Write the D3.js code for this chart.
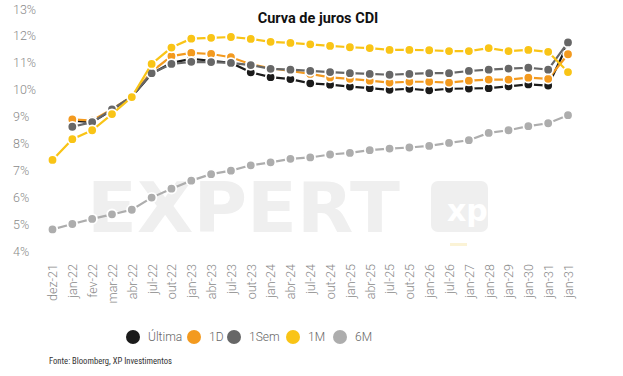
<!DOCTYPE html>
<html>
<head>
<meta charset="utf-8">
<script src="https://cdn.jsdelivr.net/npm/d3@7"></script>
<style>
  html, body { margin: 0; padding: 0; background: #fff; }
  svg { display: block; }
</style>
</head>
<body>
<svg id="chart" width="623" height="376"></svg>
<script>
const categories = ["dez-21","jan-22","fev-22","mar-22","abr-22","jul-22","out-22","jan-23","abr-23","jul-23","out-23","jan-24","abr-24","jul-24","out-24","jan-25","abr-25","jul-25","out-25","jan-26","jul-26","jan-27","jan-28","jan-29","jan-30","jan-31","jan-31"];
const ultima = [null, 8.86, 8.80, 9.25, 9.75, 10.60, 11.00, 11.15, 11.08, 11.00, 10.65, 10.47, 10.40, 10.24, 10.19, 10.12, 10.06, 10.00, 10.04, 9.98, 10.04, 10.05, 10.06, 10.13, 10.20, 10.16, 11.72];
const d1     = [null, 8.90, 8.86, 9.28, 9.76, 10.68, 11.25, 11.37, 11.33, 11.21, 10.95, 10.80, 10.70, 10.59, 10.46, 10.41, 10.34, 10.27, 10.30, 10.30, 10.27, 10.34, 10.38, 10.38, 10.45, 10.41, 11.32];
const sem1   = [null, 8.63, 8.80, 9.27, 9.76, 10.62, 10.96, 11.04, 11.03, 11.00, 10.92, 10.78, 10.75, 10.70, 10.66, 10.62, 10.59, 10.56, 10.59, 10.62, 10.62, 10.70, 10.75, 10.79, 10.82, 10.75, 11.76];
const m1     = [7.40, 8.17, 8.50, 9.10, 9.73, 10.96, 11.57, 11.90, 11.93, 11.96, 11.89, 11.78, 11.74, 11.69, 11.63, 11.58, 11.55, 11.48, 11.48, 11.47, 11.44, 11.44, 11.55, 11.44, 11.48, 11.41, 10.66];
const m6     = [4.82, 5.02, 5.21, 5.38, 5.55, 6.00, 6.33, 6.63, 6.87, 7.00, 7.20, 7.31, 7.44, 7.49, 7.60, 7.66, 7.76, 7.82, 7.86, 7.92, 8.03, 8.13, 8.40, 8.50, 8.65, 8.76, 9.06];
const yTicks = [4,5,6,7,8,9,10,11,12,13];
const seriesNames = ["Última","1D","1Sem","1M","6M"];
const seriesColors = ["#1b1b1b","#f39a1f","#676767","#f9c416","#adadad"];
const seriesValues = [ultima, d1, sem1, m1, m6];

const svg = d3.select("#chart");
const x = d3.scalePoint().domain(d3.range(categories.length)).range([52.5, 568]);
const y = d3.scaleLinear().domain([4, 13]).range([251.5, 9]);

// watermark
const wm = svg.append("g").attr("class","watermark");
wm.append("text").attr("x", 87).attr("y", 232)
  .attr("font-family","DejaVu Sans").attr("font-weight","bold").attr("font-size", 69)
  .attr("textLength", 313).attr("lengthAdjust","spacingAndGlyphs")
  .attr("fill","#efefef").text("EXPERT");
wm.append("rect").attr("x",431).attr("y",181).attr("width",57).attr("height",51).attr("rx",7).attr("fill","#efefef");
wm.append("text").attr("x",447).attr("y",221).attr("font-family","DejaVu Sans").attr("font-weight","bold")
  .attr("font-size",30).attr("fill","#ffffff").text("xp");
wm.append("rect").attr("x",450).attr("y",243).attr("width",17).attr("height",3).attr("fill","#fbf3d6");

// title
svg.append("text").attr("x", 318).attr("y", 23).attr("text-anchor","middle")
  .attr("font-family","Roboto, 'Liberation Sans', sans-serif").attr("font-weight","bold")
  .attr("font-size", 14.5).attr("fill","#111").text("Curva de juros CDI");

// y axis labels
const yAxis = d3.axisLeft(y).tickValues(yTicks).tickFormat(d => d + "%").tickSize(0).tickPadding(0);
const gy = svg.append("g").attr("transform","translate(13,0)").call(yAxis);
gy.select(".domain").remove();
gy.selectAll("text").attr("text-anchor","start").attr("x",0)
  .attr("font-family","Roboto, sans-serif").attr("font-weight",300).attr("font-size",12.5).attr("fill","#8a8a8a");

// x axis labels
const xAxis = d3.axisBottom(x).tickFormat(i => categories[i]).tickSize(0).tickPadding(0);
const gx = svg.append("g").attr("transform","translate(0,264)").call(xAxis);
gx.select(".domain").remove();
gx.selectAll("text")
  .attr("transform","rotate(-90)")
  .attr("text-anchor","end").attr("x",0).attr("y",0).attr("dy","0.35em")
  .attr("font-family","Roboto, sans-serif").attr("font-weight",300).attr("font-size",12.5).attr("fill","#8a8a8a");

// series
const line = d3.line().defined(d => d != null).x((d,i) => x(i)).y(d => y(d));
seriesValues.forEach((vals, si) => {
  const g = svg.append("g");
  g.append("path").datum(vals).attr("d", line)
    .attr("fill","none").attr("stroke", seriesColors[si]).attr("stroke-width", 2.2);
  g.selectAll("circle").data(vals.map((v,i)=>({v,i})).filter(d => d.v != null)).join("circle")
    .attr("cx", d => x(d.i)).attr("cy", d => y(d.v)).attr("r", 4.8)
    .attr("fill", seriesColors[si]).attr("stroke","#fff").attr("stroke-width", 1.8);
});

// legend
const legendX = [133, 194, 234, 293, 340];
const lg = svg.append("g");
seriesNames.forEach((n, i) => {
  lg.append("circle").attr("cx", legendX[i]).attr("cy", 337).attr("r", 7).attr("fill", seriesColors[i]);
  lg.append("text").attr("x", legendX[i] + 15).attr("y", 337).attr("dy","0.35em")
    .attr("font-family","Roboto, sans-serif").attr("font-weight",300).attr("font-size",12).attr("fill","#666").text(n);
});

// source
svg.append("text").attr("x", 49).attr("y", 364)
  .attr("font-family","'Liberation Sans Narrow', 'Roboto Condensed', 'DejaVu Sans Condensed', sans-serif")
  .attr("font-size", 9.5).attr("textLength", 123).attr("lengthAdjust","spacingAndGlyphs")
  .attr("fill","#333").text("Fonte: Bloomberg, XP Investimentos");
</script>
</body>
</html>
